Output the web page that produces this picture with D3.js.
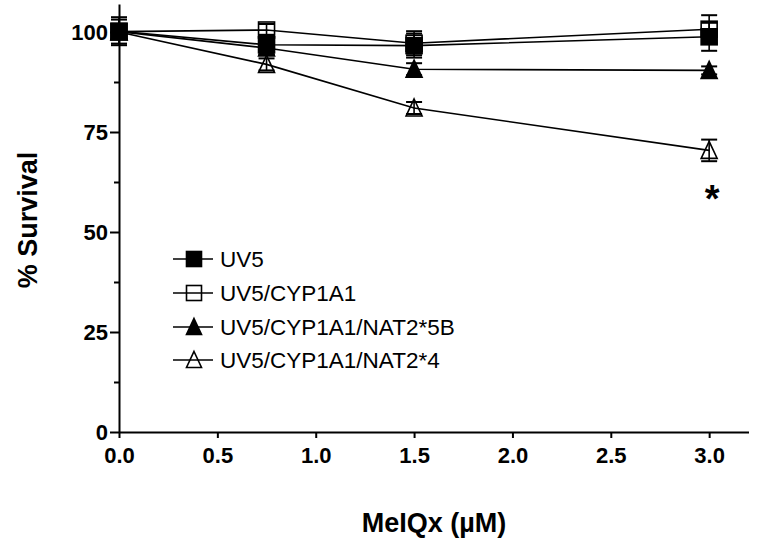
<!DOCTYPE html>
<html>
<head>
<meta charset="utf-8">
<script src="https://cdn.jsdelivr.net/npm/d3@7"></script>
<style>
    body { margin: 0; background: #fff; }
    svg { display: block; }
    .axis path, .axis line { stroke: #000; stroke-width: 2; }
    .axis text { font-family: "Liberation Sans", Arial, sans-serif; font-weight: bold; font-size: 22px; fill: #000; }
</style>
</head>
<body>
<script>

// dose of MeIQx (uM)
var doses = [0, 0.75, 1.5, 3.0];

// % survival, mean and error per cell line
var uv5 = [100.2, 96.8, 96.6, 98.8];
var uv5Err = [3.5, 2.5, 3, 3.5];
var cyp = [100.1, 100.5, 97.2, 100.7];
var cypErr = [3, 1.5, 3, 3.5];
var nat5b = [100.1, 96.0, 90.7, 90.4];
var nat5bErr = [1.5, 1.5, 1.5, 1];
var nat4 = [100.0, 91.9, 81.0, 70.4];
var nat4Err = [1.5, 1.5, 1.5, 2.7];

var seriesNames = ["UV5", "UV5/CYP1A1", "UV5/CYP1A1/NAT2*5B", "UV5/CYP1A1/NAT2*4"];
var xTicks = [0, 0.5, 1, 1.5, 2, 2.5, 3];
var yTicks = [0, 25, 50, 75, 100];
var yMinorTicks = [12.5, 37.5, 62.5, 87.5];

var series = [
    { name: seriesNames[0], values: uv5, errors: uv5Err, shape: "square", filled: true },
    { name: seriesNames[1], values: cyp, errors: cypErr, shape: "square", filled: false },
    { name: seriesNames[2], values: nat5b, errors: nat5bErr, shape: "triangle", filled: true },
    { name: seriesNames[3], values: nat4, errors: nat4Err, shape: "triangle", filled: false }
];

var width = 759, height = 545;
var font = "'Liberation Sans', Arial, sans-serif";

var svg = d3.select("body").append("svg")
    .attr("width", width)
    .attr("height", height);

var x = d3.scaleLinear().domain([0, 3.2]).range([119, 748.5]);
var y = d3.scaleLinear().domain([0, 107]).range([432, 4]);

// axes
svg.append("g")
    .attr("class", "axis")
    .attr("transform", "translate(0,432)")
    .call(d3.axisBottom(x)
        .tickValues(xTicks)
        .tickFormat(d3.format(".1f"))
        .tickSize(6)
        .tickSizeOuter(0)
        .tickPadding(9));

svg.append("g")
    .attr("class", "axis")
    .attr("transform", "translate(119,0)")
    .call(d3.axisLeft(y)
        .tickValues(yTicks)
        .tickSize(9)
        .tickSizeOuter(0)
        .tickPadding(2));

svg.append("g")
    .attr("class", "axis")
    .attr("transform", "translate(119,0)")
    .call(d3.axisLeft(y)
        .tickValues(yMinorTicks)
        .tickSize(5)
        .tickSizeOuter(0)
        .tickFormat(""))
    .select(".domain").remove();

// axis titles
svg.append("text")
    .attr("x", 434)
    .attr("y", 532)
    .attr("text-anchor", "middle")
    .style("font-family", font)
    .style("font-weight", "bold")
    .style("font-size", "27px")
    .text("MeIQx (\u00b5M)");

svg.append("text")
    .attr("transform", "translate(37,220) rotate(-90)")
    .attr("text-anchor", "middle")
    .style("font-family", font)
    .style("font-weight", "bold")
    .style("font-size", "27px")
    .text("% Survival");

function drawMarker(g, shape, filled, cx, cy, size) {
    var h = size / 2;
    var m;
    if (shape == "square") {
        m = g.append("rect")
            .attr("x", cx - h)
            .attr("y", cy - h)
            .attr("width", size)
            .attr("height", size);
    } else {
        m = g.append("path")
            .attr("d", "M" + cx + "," + (cy - h - 1) +
                "L" + (cx + h) + "," + (cy + h) +
                "L" + (cx - h) + "," + (cy + h) + "Z");
    }
    m.attr("fill", filled ? "#000" : "none")
        .attr("stroke", "#000")
        .attr("stroke-width", 1.6);
}

var line = d3.line()
    .x(function (d) { return x(d[0]); })
    .y(function (d) { return y(d[1]); });

var plot = svg.append("g");

// connecting lines
series.forEach(function (s) {
    plot.append("path")
        .attr("d", line(doses.map(function (d, i) { return [d, s.values[i]]; })))
        .attr("fill", "none")
        .attr("stroke", "#000")
        .attr("stroke-width", 1.6);
});

// error bars
series.forEach(function (s) {
    doses.forEach(function (d, i) {
        var cx = x(d);
        var top = y(s.values[i] + s.errors[i]);
        var bot = y(s.values[i] - s.errors[i]);
        plot.append("line")
            .attr("x1", cx).attr("x2", cx)
            .attr("y1", top).attr("y2", bot)
            .attr("stroke", "#000").attr("stroke-width", 1.6);
        [top, bot].forEach(function (yy) {
            plot.append("line")
                .attr("x1", cx - 8).attr("x2", cx + 8)
                .attr("y1", yy).attr("y2", yy)
                .attr("stroke", "#000").attr("stroke-width", 2);
        });
    });
});

// markers
series.forEach(function (s) {
    doses.forEach(function (d, i) {
        drawMarker(plot, s.shape, s.filled, x(d), y(s.values[i]), 16);
    });
});

// significance mark
svg.append("text")
    .attr("x", x(3.0) + 3)
    .attr("y", 212)
    .attr("text-anchor", "middle")
    .style("font-family", font)
    .style("font-weight", "bold")
    .style("font-size", "38px")
    .text("*");

// legend
var legendY = [259, 293, 327, 360];
var legend = svg.append("g");

series.forEach(function (s, i) {
    var ly = legendY[i];
    legend.append("line")
        .attr("x1", 173).attr("x2", 213)
        .attr("y1", ly).attr("y2", ly)
        .attr("stroke", "#000").attr("stroke-width", 1.6);
    drawMarker(legend, s.shape, s.filled, 194, ly, 15);
    legend.append("text")
        .attr("x", 220)
        .attr("y", ly)
        .attr("dy", "0.36em")
        .style("font-family", font)
        .style("font-size", "22.5px")
        .text(s.name);
});

</script>
</body>
</html>
